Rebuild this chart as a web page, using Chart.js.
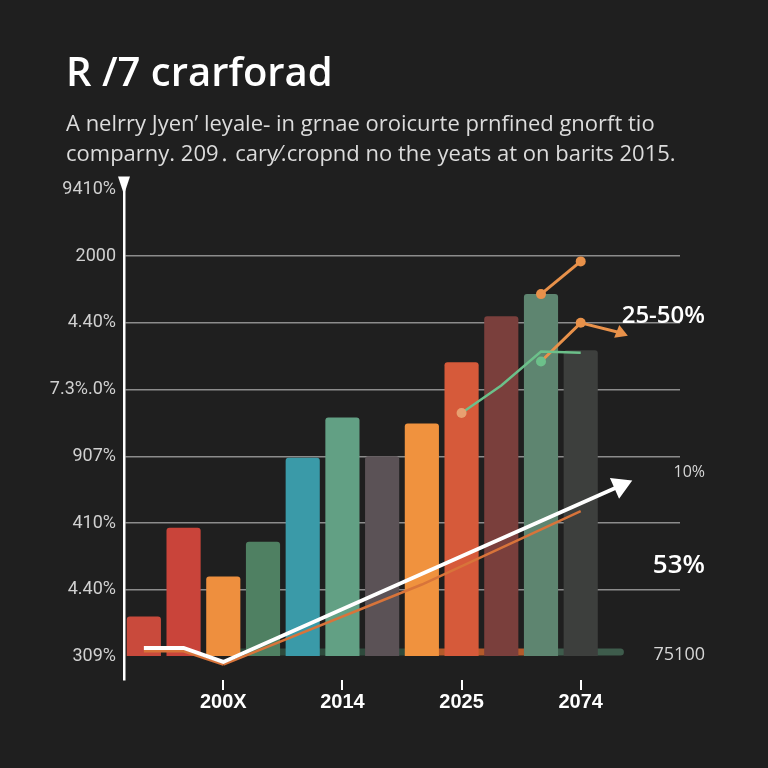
<!DOCTYPE html>
<html>
<head>
<meta charset="utf-8">
<script src="https://cdn.jsdelivr.net/npm/chart.js@4"></script>
<style>
  html, body { margin: 0; padding: 0; background: #1f1f1f; }
  #wrap { width: 768px; height: 768px; }
</style>
</head>
<body>
<div id="wrap"><canvas id="mixed-chart" width="768" height="768"></canvas></div>
<script>
// categories along the bottom (blank ones carry no label)
const categories = ['', '', '200X', '', '', '2014', '', '', '2025', '', '', '2074', '', ''];
// bar heights, left to right
const barValues = [0.6, 1.93, 1.2, 1.72, 2.98, 3.58, 3.0, 3.49, 4.41, 5.1, 5.43, 4.59];
const barColors = ['#c94a3c', '#c9443a', '#ee8f3e', '#4f8062', '#3a9aa8', '#62a084',
    '#5b5256', '#f0923e', '#d65a3a', '#7a3f3c', '#5e8570', '#3d3f3d'];
// line series (null = no point)
const whiteLine = [0.13, 0.13, -0.08, null, null, null, null, null, null, null, null, null, 2.56, null];
const orangeLow = [0.08, 0.08, -0.12, null, null, null, null, 1.08, null, null, null, 2.18, null, null];
const greenLine = [null, null, null, null, null, null, null, null, 3.65, 4.06, 4.57, 4.55, null, null];
const orangeMid = [null, null, null, null, null, null, null, null, null, null, 4.42, 5.0, 4.85, null];
const orangeTop = [null, null, null, null, null, null, null, null, null, null, 5.43, 5.92, null, null];
const baseStrip = [null, null, 0.07, 0.07, 0.07, 0.07, 0.07, 0.07, 0.07, 0.07, 0.07, 0.07, 0.07, null];
// y tick labels, bottom to top
const yTickLabels = ['309%', '4.40%', '410%', '907%', '7.3%.0%', '4.40%', '2000', '9410%'];
// labels on the right side
const rightLabels = ['25-50%', '10%', '53%', '75100'];
const rightValues = [5.1, 2.76, 1.36, 0.03];

const rightLabelSizes = [24, 16, 26, 18];

const decor = {
    id: 'decor',
    afterLayout(chart) {
        // let the left tick labels run past the axis box instead of being clipped
        chart.scales.y.left = 20;
    },
    beforeDraw(chart) {
        const c = chart.ctx;
        c.save();
        c.fillStyle = '#1f1f1f';
        c.fillRect(0, 0, chart.width, chart.height);
        c.restore();
    },
    afterDraw(chart) {
        const c = chart.ctx;
        const area = chart.chartArea;
        const y = chart.scales.y;
        c.save();
        // arrow on top of the y axis
        c.fillStyle = '#ffffff';
        c.beginPath();
        c.moveTo(area.left - 6, area.top - 6);
        c.lineTo(area.left + 6, area.top - 6);
        c.lineTo(area.left, area.top + 12);
        c.closePath();
        c.fill();
        // right side labels
        c.textAlign = 'right';
        c.textBaseline = 'middle';
        rightLabels.forEach((t, i) => {
            const big = rightLabelSizes[i] > 20;
            c.font = (big ? '600 ' : '400 ') + rightLabelSizes[i] + 'px "Open Sans"';
            c.fillStyle = big ? '#ffffff' : '#d6d6d6';
            c.fillText(t, area.right + 25, y.getPixelForValue(rightValues[i]));
        });
        c.restore();
    }
};

const lastIdx = 12;

new Chart(document.getElementById('mixed-chart'), {
    type: 'bar',
    data: {
        labels: categories,
        datasets: [{
            type: 'line',
            label: 'strip',
            data: baseStrip,
            borderWidth: 7,
            borderCapStyle: 'round',
            pointRadius: 0,
            segment: {
                borderColor: ctx => (ctx.p0DataIndex >= 7 && ctx.p0DataIndex <= 9) ? '#b35a2a' :
                    (ctx.p0DataIndex > 9 ? '#3e5c4c' : '#2e4a3c')
            },
            order: 3
        }, {
            type: 'line',
            label: 'orange low',
            data: orangeLow,
            borderColor: '#d8743a',
            borderWidth: 2.5,
            pointRadius: 0,
            spanGaps: true,
            segment: {
                borderColor: ctx => ctx.p0DataIndex === 2 ? 'rgba(0,0,0,0)' : '#d8743a'
            },
            order: 1
        }, {
            type: 'line',
            label: 'white',
            data: whiteLine,
            borderColor: '#ffffff',
            backgroundColor: '#ffffff',
            borderWidth: 4,
            spanGaps: true,
            pointStyle: 'triangle',
            pointRadius: ctx => ctx.dataIndex === lastIdx ? 9 : 0,
            pointRotation: 66,
            order: 0
        }, {
            type: 'line',
            label: 'green',
            data: greenLine,
            borderColor: '#6cc08a',
            borderWidth: 2.5,
            pointRadius: ctx => ctx.dataIndex === 8 ? 5 : 0,
            pointBackgroundColor: '#e8a070',
            pointBorderWidth: 0,
            order: 0
        }, {
            type: 'line',
            label: 'orange mid',
            data: orangeMid,
            borderColor: '#e8914a',
            backgroundColor: '#e8914a',
            borderWidth: 3,
            pointStyle: ctx => ctx.dataIndex === lastIdx ? 'triangle' : 'circle',
            pointRadius: ctx => ctx.dataIndex === lastIdx ? 8 : 5,
            pointBackgroundColor: ctx => ctx.dataIndex === 10 ? '#6cc08a' : '#e8914a',
            pointRotation: ctx => ctx.dataIndex === lastIdx ? 112 : 0,
            pointBorderWidth: 0,
            order: 0
        }, {
            type: 'line',
            label: 'orange top',
            data: orangeTop,
            borderColor: '#e8914a',
            backgroundColor: '#e8914a',
            borderWidth: 3,
            pointRadius: 5,
            pointBorderWidth: 0,
            order: 0
        }, {
            label: 'bars',
            data: barValues,
            backgroundColor: barColors,
            borderRadius: 3,
            borderSkipped: 'bottom',
            barPercentage: 0.86,
            categoryPercentage: 1,
            order: 2
        }]
    },
    options: {
        responsive: false,
        animation: false,
        layout: { padding: { left: 66, right: 88, top: 51, bottom: 48 } },
        plugins: {
            legend: { display: false },
            tooltip: { enabled: false },
            title: {
                display: true,
                align: 'start',
                text: 'R /7 crarforad',
                color: '#ffffff',
                font: { family: '"Open Sans"', size: 40, weight: '600', lineHeight: 1.2 },
                padding: { top: 0, bottom: 10 }
            },
            subtitle: {
                display: true,
                align: 'start',
                text: ['A nelrry Jyen\u2019 leyale\u2010 in grnae oroicurte prnfined gnorft tio',
                       'comparny. 209\u2024 cary\u2044.cropnd no the yeats at on barits 2015.'],
                color: '#dcdcdc',
                font: { family: '"Open Sans"', size: 22, weight: '400', lineHeight: 1.4 },
                padding: { top: 0, bottom: 12 }
            }
        },
        scales: {
            x: {
                offset: true,
                border: { display: false },
                grid: {
                    offset: false,
                    drawOnChartArea: false,
                    drawTicks: true,
                    tickLength: 10,
                    lineWidth: 2,
                    color: ctx => (ctx.tick && ctx.tick.label) ? '#ffffff' : 'rgba(0,0,0,0)'
                },
                ticks: {
                    autoSkip: false,
                    maxRotation: 0,
                    padding: 0,
                    color: '#ffffff',
                    font: { family: '"Liberation Sans"', size: 20, weight: 'bold' }
                },
                afterFit: s => { s.height = 40; }
            },
            y: {
                min: -0.35,
                max: 7.1,
                afterBuildTicks: s => { s.ticks = yTickLabels.map((t, i) => ({ value: i })); },
                border: { display: true, color: '#ffffff', width: 2.5 },
                grid: {
                    drawTicks: false,
                    lineWidth: 1.5,
                    color: ctx => (ctx.tick && ctx.tick.value > 0 && ctx.tick.value < 7) ? '#8c8c8c' : 'rgba(0,0,0,0)'
                },
                ticks: {
                    padding: 8,
                    color: '#d0d0d0',
                    font: { family: 'Roboto', size: 18 },
                    callback: (v, i) => yTickLabels[i]
                },
                afterFit: s => { s.width = 58; }
            }
        }
    },
    plugins: [decor]
});
</script>
</body>
</html>
